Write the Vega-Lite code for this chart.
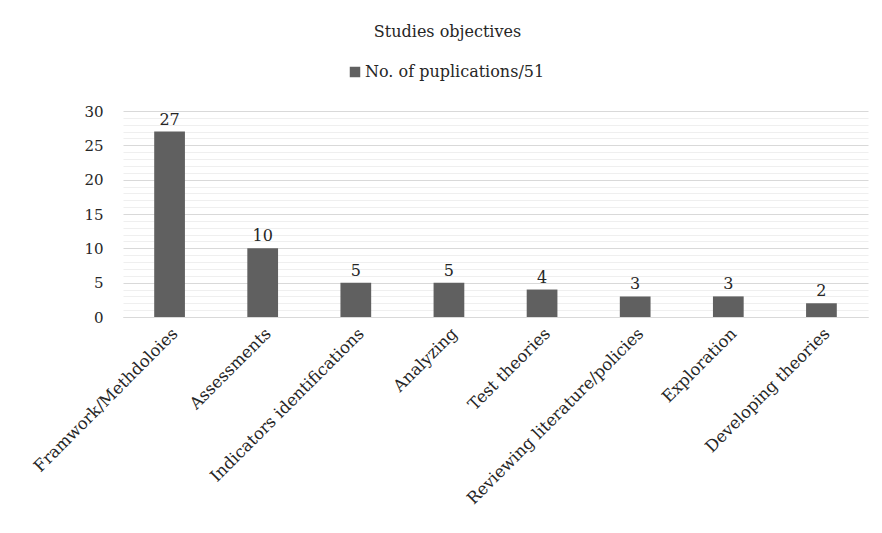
{
  "$schema": "https://vega.github.io/schema/vega-lite/v6.json",
  "width": 745,
  "height": 206,
  "autosize": {"type": "none"},
  "padding": {"left": 123, "top": 111, "right": 14, "bottom": 216},
  "background": "white",
  "title": {
    "text": "Studies objectives",
    "font": "DejaVu Serif",
    "fontSize": 16,
    "fontWeight": "normal",
    "color": "#262626",
    "anchor": "middle",
    "dx": -48,
    "offset": 24
  },
  "data": {
    "values": [
      {"objective": "Framwork/Methdoloies", "count": 27, "series": "No. of puplications/51"},
      {"objective": "Assessments", "count": 10, "series": "No. of puplications/51"},
      {"objective": "Indicators identifications", "count": 5, "series": "No. of puplications/51"},
      {"objective": "Analyzing", "count": 5, "series": "No. of puplications/51"},
      {"objective": "Test theories", "count": 4, "series": "No. of puplications/51"},
      {"objective": "Reviewing literature/policies", "count": 3, "series": "No. of puplications/51"},
      {"objective": "Exploration", "count": 3, "series": "No. of puplications/51"},
      {"objective": "Developing theories", "count": 2, "series": "No. of puplications/51"}
    ]
  },
  "encoding": {
    "x": {
      "field": "objective",
      "type": "nominal",
      "sort": null,
      "scale": {"paddingInner": 0.67, "paddingOuter": 0.335},
      "axis": {
        "title": null,
        "labelAngle": -45,
        "labelFont": "DejaVu Serif",
        "labelFontSize": 16.5,
        "labelColor": "#262626",
        "labelPadding": 8,
        "labelLimit": 300,
        "ticks": false,
        "domainColor": "#d9d9d9",
        "grid": false
      }
    },
    "y": {
      "field": "count",
      "type": "quantitative",
      "scale": {"domain": [0, 30], "nice": false},
      "axis": {
        "title": null,
        "values": [0,1,2,3,4,5,6,7,8,9,10,11,12,13,14,15,16,17,18,19,20,21,22,23,24,25,26,27,28,29,30],
        "labelExpr": "datum.value % 5 === 0 ? datum.label : ''",
        "labelFont": "DejaVu Serif",
        "labelFontSize": 15,
        "labelColor": "#262626",
        "labelPadding": 20,
        "ticks": false,
        "domain": false,
        "gridColor": {"condition": {"test": "datum.value % 5 === 0", "value": "#d9d9d9"}, "value": "#efefef"},
        "gridWidth": 1
      }
    }
  },
  "layer": [
    {
      "mark": {"type": "bar", "color": "#606060"},
      "encoding": {
        "color": {
          "field": "series",
          "type": "nominal",
          "scale": {"range": ["#606060"]},
          "legend": {
            "title": null,
            "orient": "none",
            "legendX": 224,
            "legendY": -47,
            "symbolType": "square",
            "symbolSize": 110,
            "labelFont": "DejaVu Serif",
            "labelFontSize": 16,
            "labelColor": "#262626",
            "labelLimit": 400,
            "labelOffset": 2
          }
        }
      }
    },
    {
      "mark": {"type": "text", "dy": -12, "font": "DejaVu Serif", "fontSize": 16, "color": "#262626"},
      "encoding": {"text": {"field": "count", "type": "quantitative"}}
    }
  ],
  "config": {"view": {"stroke": null}}
}
